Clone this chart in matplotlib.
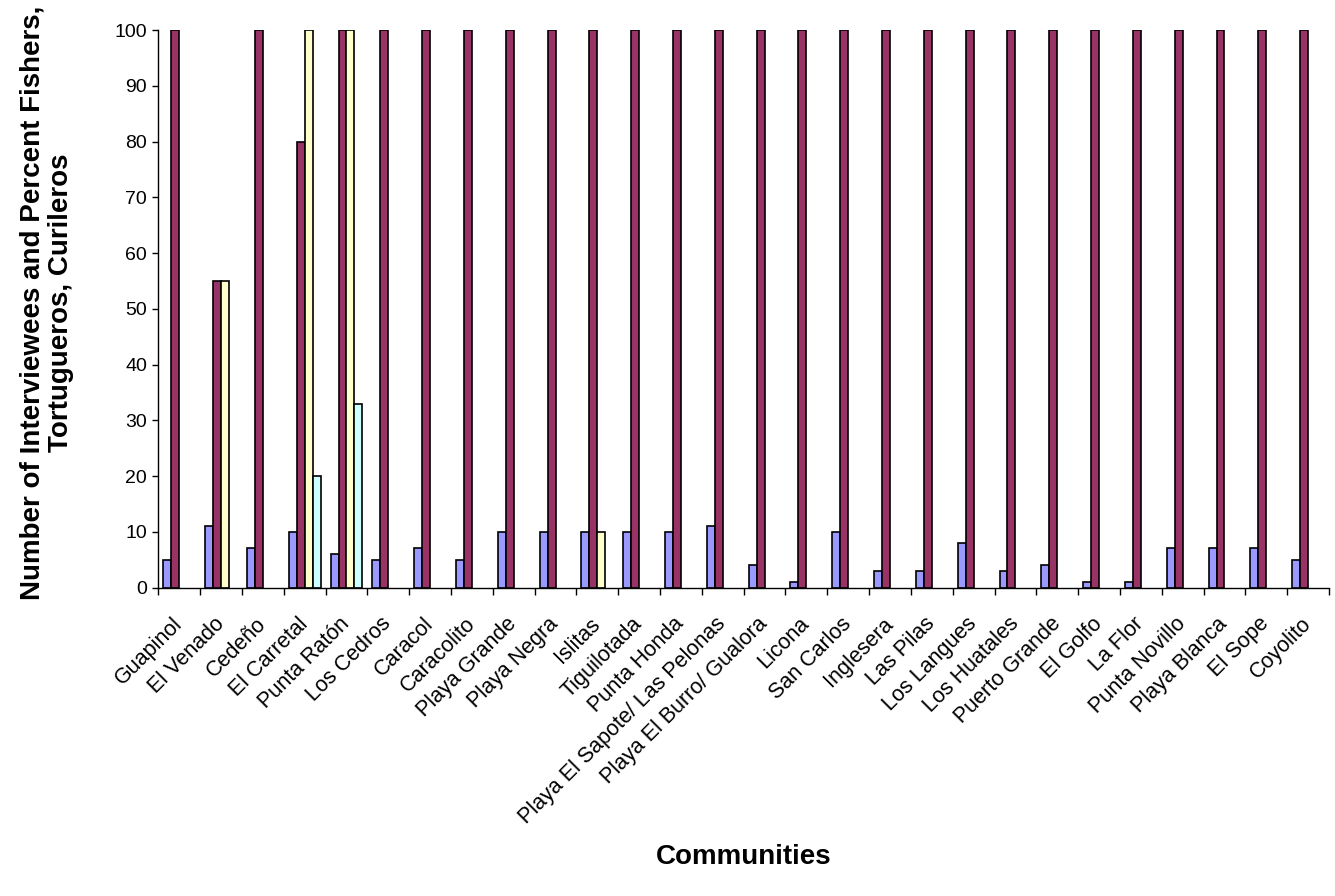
import numpy as np
import matplotlib
matplotlib.use('Agg')
import matplotlib.pyplot as plt
from matplotlib.transforms import ScaledTranslation

plt.rcParams['font.family'] = ['Liberation Sans', 'DejaVu Sans']

communities = ['Guapinol', 'El Venado', 'Cedeño', 'El Carretal', 'Punta Ratón',
               'Los Cedros', 'Caracol', 'Caracolito', 'Playa Grande', 'Playa Negra',
               'Islitas', 'Tiguilotada', 'Punta Honda', 'Playa El Sapote/ Las Pelonas',
               'Playa El Burro/ Gualora', 'Licona', 'San Carlos', 'Inglesera',
               'Las Pilas', 'Los Langues', 'Los Huatales', 'Puerto Grande', 'El Golfo',
               'La Flor', 'Punta Novillo', 'Playa Blanca', 'El Sope', 'Coyolito']

interviewees = [5, 11, 7, 10, 6, 5, 7, 5, 10, 10, 10, 10, 10, 11,
                4, 1, 10, 3, 3, 8, 3, 4, 1, 1, 7, 7, 7, 5]
pct_fishers = [100, 55, 100, 80, 100, 100, 100, 100, 100, 100, 100, 100, 100, 100,
               100, 100, 100, 100, 100, 100, 100, 100, 100, 100, 100, 100, 100, 100]
pct_tortugueros = [0, 55, 0, 100, 100, 0, 0, 0, 0, 0, 10, 0, 0, 0,
                   0, 0, 0, 0, 0, 0, 0, 0, 0, 0, 0, 0, 0, 0]
pct_curileros = [0, 0, 0, 20, 33, 0, 0, 0, 0, 0, 0, 0, 0, 0,
                 0, 0, 0, 0, 0, 0, 0, 0, 0, 0, 0, 0, 0, 0]

series = [interviewees, pct_fishers, pct_tortugueros, pct_curileros]
colors = ['#9999FF', '#993366', '#FFFFCC', '#CCFFFF']

fig = plt.figure(figsize=(13.35, 8.96), dpi=100)
ax = fig.add_axes([0.1186, 0.3443, 0.8769, 0.6222])

x = np.arange(len(communities))
width = 0.19
offsets = [-1.5, -0.5, 0.5, 1.5]
for values, color, off in zip(series, colors, offsets):
    heights = np.array(values, dtype=float)
    heights[heights == 0] = np.nan
    ax.bar(x + off * width, heights, width, color=color,
           edgecolor='black', linewidth=1.2)

ax.set_xlim(-0.5, len(communities) - 0.5)
ax.set_ylim(0, 100)
ax.set_yticks(range(0, 101, 10))

ax.set_xticks(x)
ax.set_xticks(np.arange(len(communities) + 1) - 0.5, minor=True)
ax.set_xticklabels(communities, rotation=45, ha='right', va='center',
                   rotation_mode='anchor', fontsize=15.5)

# nudge the slanted labels a little left of the category centre
shift = ScaledTranslation(-8 / 100, 3 / 100, fig.dpi_scale_trans)
for label in ax.get_xticklabels():
    label.set_transform(label.get_transform() + shift)

ax.tick_params(axis='x', which='major', length=0, pad=24)
ax.tick_params(axis='x', which='minor', length=5, width=1, direction='out')
ax.tick_params(axis='y', length=4, width=1, direction='out', labelsize=14, pad=4)

for side in ['top', 'right']:
    ax.spines[side].set_visible(False)
for side in ['left', 'bottom']:
    ax.spines[side].set_linewidth(1)

fig.text(0.035, 0.662,
         'Number of Interviewees and Percent Fishers,\nTortugueros, Curileros',
         rotation=90, ha='center', va='center', multialignment='center',
         fontsize=20, fontweight='bold', linespacing=1.15)
fig.text(0.557, 0.043, 'Communities', ha='center', va='center',
         fontsize=20, fontweight='bold')

fig.savefig('out.png', dpi=100)
